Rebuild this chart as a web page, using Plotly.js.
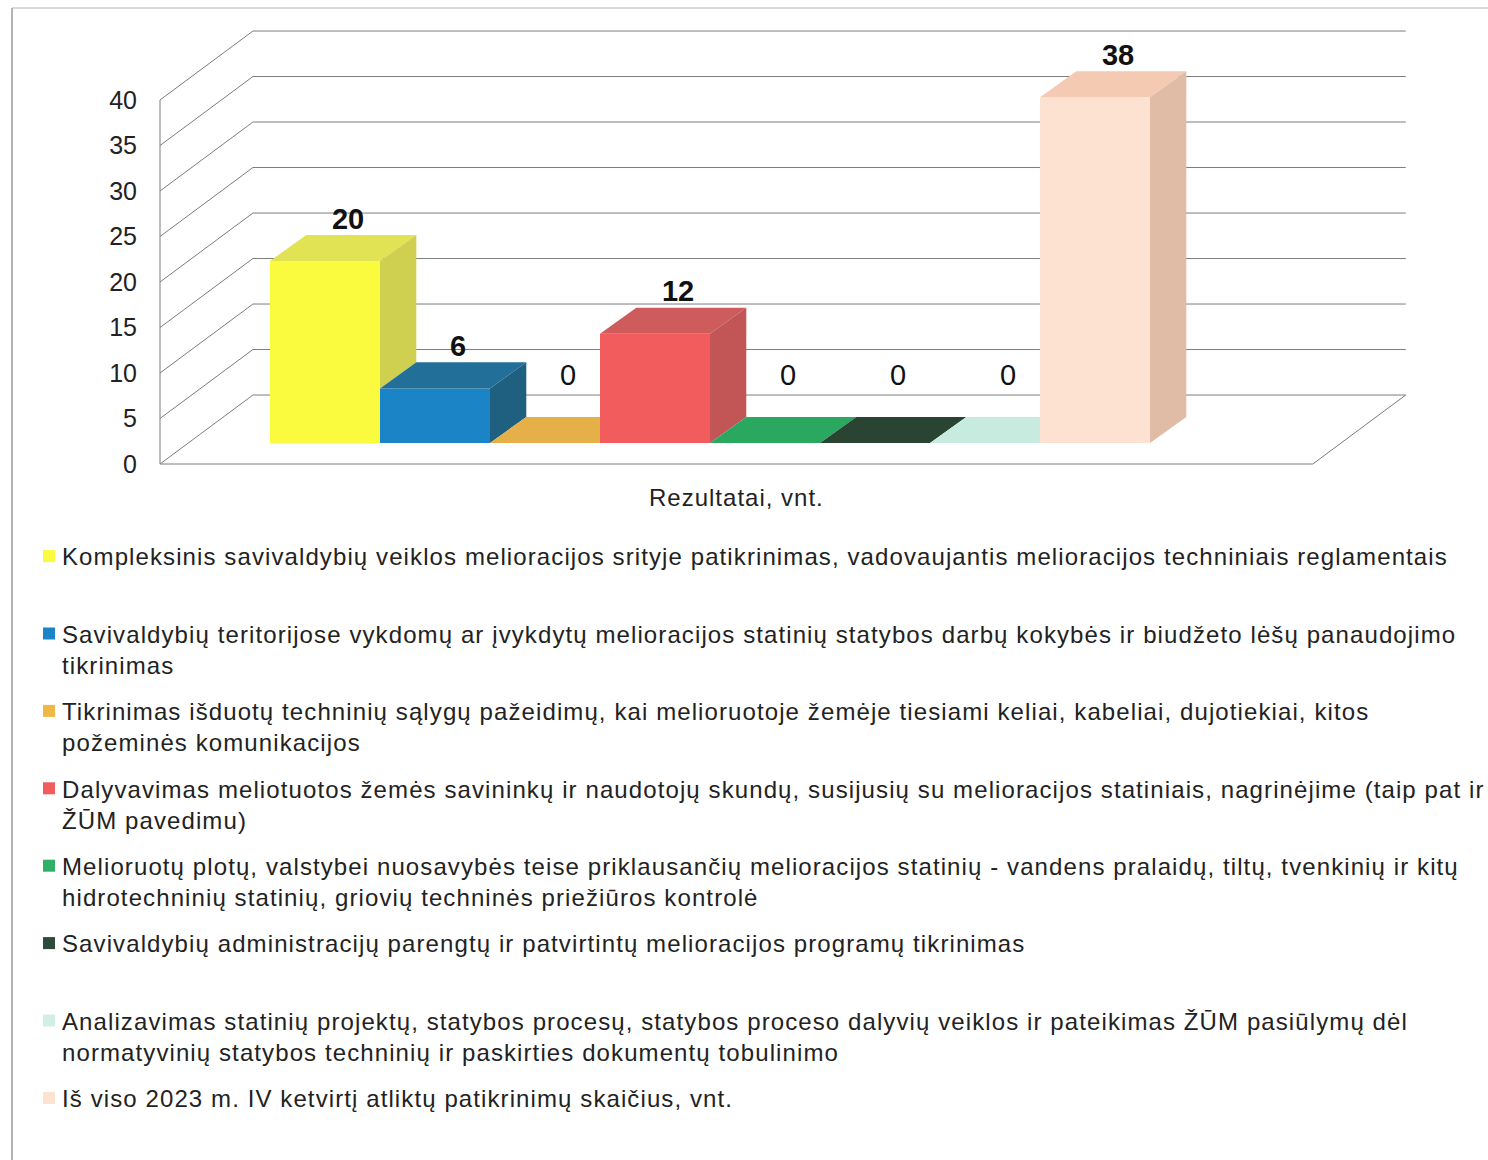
<!DOCTYPE html>
<html><head><meta charset="utf-8">
<script src="https://cdn.plot.ly/plotly-3.0.1.min.js"></script>
<style>
html,body{margin:0;padding:0;background:#fff}
#chart .legendtext{letter-spacing:1.1px}
#chart .annotation-text{letter-spacing:1px}
#chart .legend .legendsymbols{transform:translate(7px,0)}
#chart .legend .scrollbox{clip-path:none !important}
</style>
</head><body><div id="chart" style="width:1488px;height:1160px"></div>
<script>
// ---------- data ----------
const categories = [
  "Kompleksinis savivaldybių veiklos melioracijos srityje patikrinimas, vadovaujantis melioracijos techniniais reglamentais<br> ",
  "Savivaldybių teritorijose vykdomų ar įvykdytų melioracijos statinių statybos darbų kokybės ir biudžeto lėšų panaudojimo<br>tikrinimas",
  "Tikrinimas išduotų techninių sąlygų pažeidimų, kai melioruotoje žemėje tiesiami keliai, kabeliai, dujotiekiai, kitos<br>požeminės komunikacijos",
  "Dalyvavimas meliotuotos žemės savininkų ir naudotojų skundų, susijusių su melioracijos statiniais, nagrinėjime (taip pat ir<br>ŽŪM pavedimu)",
  "Melioruotų plotų, valstybei nuosavybės teise priklausančių melioracijos statinių - vandens pralaidų, tiltų, tvenkinių ir kitų<br>hidrotechninių statinių, griovių techninės priežiūros kontrolė",
  "Savivaldybių administracijų parengtų ir patvirtintų melioracijos programų tikrinimas<br> ",
  "Analizavimas statinių projektų, statybos procesų, statybos proceso dalyvių veiklos ir pateikimas ŽŪM pasiūlymų dėl<br>normatyvinių statybos techninių ir paskirties dokumentų tobulinimo",
  "Iš viso 2023 m. IV ketvirtį atliktų patikrinimų skaičius, vnt."
];
const values = [20, 6, 0, 12, 0, 0, 0, 38];
const frontColors = ["#fafa3e", "#1b84c6", "#efb844", "#f25c5c", "#2eb066", "#2e4a3a", "#d2efe6", "#fde2d1"];
const topColors   = ["#e2e255", "#22709a", "#e6b048", "#cf5c5c", "#2aa860", "#2a4434", "#c8ebdf", "#f5cab2"];
const sideColors  = ["#d0d050", "#1f5f80", "#d09a3c", "#c25656", "#23904f", "#22382b", "#b0d8cb", "#e0bca6"];
const tickValues = [0, 5, 10, 15, 20, 25, 30, 35, 40];
const axisTitle = "Rezultatai, vnt.";

// ---------- pseudo-3D geometry (axis units) ----------
const BAR_BASE = 2.31, BAR_DX = 0.33, BAR_DY = 2.86;
const WALL_X0 = -1.5, WALL_X1 = 8.98, WALL_DX = 0.845, WALL_DY = 7.58;
const YMAX = tickValues[tickValues.length - 1];
const FONT = "Liberation Sans, Arial, sans-serif";

const traces = [];
// front faces: real bar traces (also give the legend)
values.forEach((v, i) => {
  traces.push({
    type: "bar", x: [i], y: [v], base: [BAR_BASE], width: [1],
    name: categories[i], legendgroup: "g" + i,
    marker: {color: frontColors[i], line: {width: 0}},
    hoverinfo: "y+name"
  });
});

function topPoly(i) {
  const xl = i - 0.5, xr = i + 0.5, t = BAR_BASE + values[i];
  const tn = i + 1 < values.length ? BAR_BASE + values[i + 1] : -Infinity;
  if (tn <= t) return [[xl, t], [xr, t], [xr + BAR_DX, t + BAR_DY], [xl + BAR_DX, t + BAR_DY]];
  if (tn >= t + BAR_DY) return [[xl, t], [xr, t], [xr, t + BAR_DY], [xl + BAR_DX, t + BAR_DY]];
  const s = BAR_DY / BAR_DX;
  return [[xl, t], [xr, t], [xr, tn], [xr + (t + BAR_DY - tn) / s, t + BAR_DY], [xl + BAR_DX, t + BAR_DY]];
}
function sidePoly(i) {
  const xr = i + 0.5, t = BAR_BASE + values[i];
  const lo = i + 1 < values.length ? BAR_BASE + Math.max(0, values[i + 1]) : BAR_BASE;
  if (lo >= t) return null;
  return [[xr, lo], [xr, t], [xr + BAR_DX, t + BAR_DY], [xr + BAR_DX, lo + BAR_DY]];
}
function polyTrace(p, color) {
  return {type: "scatter", mode: "lines", fill: "toself", fillcolor: color,
    x: p.map(q => q[0]).concat([p[0][0]]), y: p.map(q => q[1]).concat([p[0][1]]),
    line: {width: 0, color: color}, showlegend: false, hoverinfo: "skip"};
}
values.forEach((v, i) => {
  traces.push(polyTrace(topPoly(i), topColors[i]));
  const sp = sidePoly(i);
  if (sp) traces.push(polyTrace(sp, sideColors[i]));
});

// data labels
traces.push({
  type: "scatter", mode: "text",
  x: values.map((v, i) => i + 0.21),
  y: values.map(v => BAR_BASE + v + BAR_DY + (v > 0 ? 1.5 : 4.3)),
  text: values.map(v => v > 0 ? "<b>" + v + "</b>" : String(v)),
  textposition: "middle center",
  textfont: {family: FONT, size: 29, color: "#111"},
  showlegend: false, hoverinfo: "skip"
});

// ---------- walls, floor, gridlines ----------
const GRID = {color: "#7c7c7c", width: 1};
const shapes = [];
function seg(x0, y0, x1, y1) {
  shapes.push({type: "line", xref: "x", yref: "y", x0, y0, x1, y1, line: GRID, layer: "below"});
}
tickValues.forEach(k => {
  seg(WALL_X0, k, WALL_X0 + WALL_DX, k + WALL_DY);
  seg(WALL_X0 + WALL_DX, k + WALL_DY, WALL_X1 + WALL_DX, k + WALL_DY);
});
seg(WALL_X0, 0, WALL_X0, YMAX);
seg(WALL_X0, 0, WALL_X1, 0);
seg(WALL_X1, 0, WALL_X1 + WALL_DX, WALL_DY);
// page frame
shapes.push({type: "line", xref: "paper", yref: "paper", x0: 12/1488, y0: 1 - 8/1160, x1: 1, y1: 1 - 8/1160, line: {color: "#b4b4b4", width: 1}});
shapes.push({type: "line", xref: "paper", yref: "paper", x0: 12/1488, y0: 1 - 8/1160, x1: 12/1488, y1: 0, line: {color: "#9a9a9a", width: 1.5}});

const W = 1488, H = 1160;
const layout = {
  width: W, height: H,
  margin: {l: 0, r: 0, t: 0, b: 0},
  paper_bgcolor: "#fff", plot_bgcolor: "rgba(0,0,0,0)",
  barmode: "overlay",
  font: {family: FONT, color: "#222"},
  xaxis: {range: [-325/110, (W - 325)/110], showgrid: false, zeroline: false, showticklabels: false, showline: false, fixedrange: true},
  yaxis: {range: [(464 - H)/9.1, 464/9.1], tickvals: tickValues, ticktext: tickValues.map(String),
    showgrid: false, zeroline: false, showline: false, ticks: "",
    anchor: "free", position: 137/W, tickfont: {family: FONT, size: 25, color: "#222"}, fixedrange: true},
  shapes: shapes,
  annotations: [{xref: "x", yref: "y", x: (WALL_X0 + WALL_X1)/2, y: -3.63, text: axisTitle, showarrow: false,
    font: {family: FONT, size: 24, color: "#222"}}],
  legend: {x: 22/W, xanchor: "left", y: 1 - 534/H, yanchor: "top", valign: "top",
    font: {family: FONT, size: 24, color: "#222"}, tracegroupgap: 12, bgcolor: "rgba(0,0,0,0)"},
  showlegend: true
};
Plotly.newPlot("chart", traces, layout, {displayModeBar: false, staticPlot: true});
</script></body></html>
